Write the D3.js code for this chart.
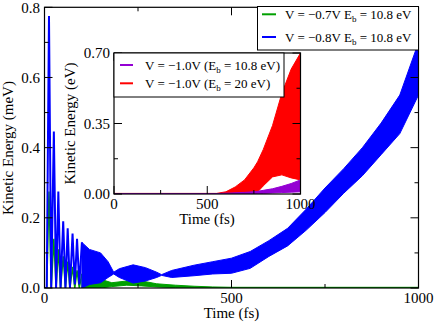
<!DOCTYPE html>
<html><head><meta charset="utf-8">
<script src="https://cdn.jsdelivr.net/npm/d3@7"></script>
<style>body{margin:0;background:#fff}svg{display:block}</style>
</head><body><svg id="c" width="436" height="324"></svg>
<script>
// ---- main plot data (meV) ----
const mainXTicks = [0, 500, 1000];
const mainYTicks = [0.0, 0.2, 0.4, 0.6, 0.8];
// early resolved spikes
const blueEarlyT = [0, 6, 12, 18, 25, 31, 37, 43, 50, 56, 62, 68, 75, 81, 87, 93, 100];
const blueEarlyV = [0, 0, 0.775, 0, 0.446, 0, 0.275, 0, 0.19, 0, 0.17, 0, 0.155, 0.01, 0.14, 0.01, 0.13];
const greenEarlyT = [0, 6, 12, 18, 25, 31, 37, 43, 50, 56, 62, 68, 75, 81, 87, 93, 100];
const greenEarlyV = [0, 0, 0.275, 0, 0.14, 0, 0.11, 0, 0.09, 0, 0.075, 0, 0.06, 0, 0.05, 0, 0.04];
// dense oscillation envelopes
const blueT  = [100, 120, 150, 170, 185, 200, 237, 270, 300, 313, 340, 400, 450, 500, 550, 600, 650, 700, 750, 800, 850, 900, 950, 1000];
const blueHi = [0.13, 0.11, 0.10, 0.075, 0.045, 0.055, 0.066, 0.058, 0.045, 0.038, 0.05, 0.065, 0.075, 0.085, 0.104, 0.135, 0.17, 0.225, 0.285, 0.34, 0.40, 0.47, 0.55, 0.70];
const blueLo = [0.0, 0.01, 0.015, 0.03, 0.04, 0.03, 0.014, 0.02, 0.03, 0.036, 0.03, 0.035, 0.04, 0.042, 0.056, 0.09, 0.12, 0.165, 0.215, 0.27, 0.32, 0.38, 0.44, 0.55];
const greenT  = [100, 150, 180, 220, 260, 300, 350, 400, 450, 500, 1000];
const greenHi = [0.04, 0.025, 0.015, 0.02, 0.02, 0.012, 0.008, 0.005, 0.003, 0.002, 0.002];
const greenLo = [0.0, 0.0, 0.004, 0.008, 0.006, 0.003, 0.001, 0.0, 0.0, 0.0, 0.0];
// ---- inset data (eV) ----
const insetXTicks = [0, 500, 1000];
const insetYTicks = [0.00, 0.35, 0.70];
const redT  = [0, 550, 600, 650, 700, 750, 770, 800, 850, 900, 950, 1000];
const redHi = [0.003, 0.003, 0.011, 0.035, 0.07, 0.13, 0.16, 0.22, 0.34, 0.50, 0.62, 0.70];
const redLo = [0, 0, 0, 0, 0, 0, 0.01, 0.04, 0.085, 0.095, 0.08, 0.07];
const purpleT  = [0, 550, 600, 700, 763, 800, 850, 900, 950, 1000];
const purpleHi = [0.002, 0.002, 0.004, 0.008, 0.012, 0.018, 0.026, 0.038, 0.052, 0.07];
const purpleLo = [0, 0, 0, 0, 0, 0.003, 0.005, 0.007, 0.009, 0.011];

const mainLegend = [
  {c: "#00a000", pre: "V = \u22120.7V E", post: " = 10.8 eV"},
  {c: "#0000ff", pre: "V = \u22120.8V E", post: " = 10.8 eV"}];
const insetLegend = [
  {c: "#9400d3", pre: "V = \u22121.0V (E", post: " = 10.8 eV)"},
  {c: "#ff0000", pre: "V = \u22121.0V (E", post: " = 20 eV)"}];

const svg = d3.select("#c");
const FS = 15;
const FONT = "Liberation Serif";
function txt(g) { return g.append("text").style("font-family", FONT).attr("fill", "#000"); }

function frame(g, x, y, xt, yt, xminor, yminor) {
  const [x0, x1] = x.range(), [y0, y1] = y.range();
  const maj = 8, mn = 4;
  xt.forEach(t => {
    g.append("line").attr("x1", x(t)).attr("x2", x(t)).attr("y1", y0).attr("y2", y0 - maj).attr("stroke", "#000");
    g.append("line").attr("x1", x(t)).attr("x2", x(t)).attr("y1", y1).attr("y2", y1 + maj).attr("stroke", "#000");
  });
  xminor.forEach(t => {
    g.append("line").attr("x1", x(t)).attr("x2", x(t)).attr("y1", y0).attr("y2", y0 - mn).attr("stroke", "#000");
    g.append("line").attr("x1", x(t)).attr("x2", x(t)).attr("y1", y1).attr("y2", y1 + mn).attr("stroke", "#000");
  });
  yt.forEach(t => {
    g.append("line").attr("y1", y(t)).attr("y2", y(t)).attr("x1", x0).attr("x2", x0 + maj).attr("stroke", "#000");
    g.append("line").attr("y1", y(t)).attr("y2", y(t)).attr("x1", x1).attr("x2", x1 - maj).attr("stroke", "#000");
  });
  yminor.forEach(t => {
    g.append("line").attr("y1", y(t)).attr("y2", y(t)).attr("x1", x0).attr("x2", x0 + mn).attr("stroke", "#000");
    g.append("line").attr("y1", y(t)).attr("y2", y(t)).attr("x1", x1).attr("x2", x1 - mn).attr("stroke", "#000");
  });
  g.append("rect").attr("x", x0).attr("y", y1).attr("width", x1 - x0).attr("height", y0 - y1)
    .attr("fill", "none").attr("stroke", "#000").attr("stroke-width", 1.2);
}

function band(g, T, Hi, Lo, x, y, color) {
  const pts = T.map((t, i) => ({t, hi: Hi[i], lo: Lo[i]}));
  g.append("path").datum(pts)
    .attr("d", d3.area().x(d => x(d.t)).y0(d => y(d.lo)).y1(d => y(d.hi)))
    .attr("fill", color).attr("stroke", color).attr("stroke-width", 1);
}
function spikes(g, T, V, x, y, color, w) {
  const pts = T.map((t, i) => [t, V[i]]);
  g.append("path").datum(pts).attr("d", d3.line().x(d => x(d[0])).y(d => y(d[1])))
    .attr("fill", "none").attr("stroke", color).attr("stroke-width", w);
}
function legend(g, items, bx, by, bw, bh, lx0, lx1, ly, dy, tx) {
  g.append("rect").attr("x", bx).attr("y", by).attr("width", bw).attr("height", bh)
    .attr("fill", "#fff").attr("stroke", "#000").attr("stroke-width", 1);
  items.forEach((it, i) => {
    const yy = ly + i * dy;
    g.append("line").attr("x1", lx0).attr("x2", lx1).attr("y1", yy).attr("y2", yy)
      .attr("stroke", it.c).attr("stroke-width", 2);
    const t = txt(g).attr("x", tx).attr("y", yy + 4.5).attr("font-size", 13);
    t.append("tspan").text(it.pre);
    t.append("tspan").attr("font-size", 9).attr("dy", 3).text("b");
    t.append("tspan").attr("dy", -3).text(it.post);
  });
}

// ---------- main plot ----------
const x = d3.scaleLinear().domain([0, 1000]).range([44.5, 418.5]);
const y = d3.scaleLinear().domain([0, 0.8]).range([288, 7.3]);
const gm = svg.append("g");
svg.append("clipPath").attr("id", "cm").append("rect")
  .attr("x", 44.5).attr("y", 7.3).attr("width", 374).attr("height", 280.7);
const dm = gm.append("g").attr("clip-path", "url(#cm)");
band(dm, greenT, greenHi, greenLo, x, y, "#00a000");
spikes(dm, greenEarlyT, greenEarlyV, x, y, "#00a000", 1.5);
spikes(dm, blueEarlyT, blueEarlyV, x, y, "#0000ff", 2);
band(dm, blueT, blueHi, blueLo, x, y, "#0000ff");
dm.append("line").attr("x1", x(500)).attr("x2", x(1000)).attr("y1", y(0.001)).attr("y2", y(0.001))
  .attr("stroke", "#00a000").attr("stroke-width", 1.5);
frame(gm, x, y, mainXTicks, mainYTicks, [250, 750], [0.1, 0.3, 0.5, 0.7]);
mainXTicks.forEach(t => txt(gm).attr("x", x(t)).attr("y", 303).attr("text-anchor", "middle").attr("font-size", FS).text(t));
mainYTicks.forEach(t => txt(gm).attr("x", 40).attr("y", y(t)).attr("dy", "0.35em").attr("text-anchor", "end").attr("font-size", FS).text(d3.format(".1f")(t)));
txt(gm).attr("x", 231.5).attr("y", 318).attr("text-anchor", "middle").attr("font-size", FS).text("Time (fs)");
txt(gm).attr("transform", "translate(13,148) rotate(-90)").attr("text-anchor", "middle").attr("font-size", FS).text("Kinetic Energy (meV)");
legend(gm, mainLegend, 257.5, 6.5, 161, 43.5, 262, 276, 14.3, 22.7, 285);

// ---------- inset ----------
const xi = d3.scaleLinear().domain([0, 1000]).range([114, 300.5]);
const yi = d3.scaleLinear().domain([0, 0.70]).range([194, 53]);
const gi = svg.append("g");
gi.append("rect").attr("x", 114).attr("y", 53).attr("width", 186.5).attr("height", 141).attr("fill", "#fff");
svg.append("clipPath").attr("id", "ci").append("rect")
  .attr("x", 114).attr("y", 53).attr("width", 186.5).attr("height", 141);
const di = gi.append("g").attr("clip-path", "url(#ci)");
band(di, redT, redHi, redLo, xi, yi, "#ff0000");
band(di, purpleT, purpleHi, purpleLo, xi, yi, "#9400d3");
frame(gi, xi, yi, insetXTicks, insetYTicks, [250, 750], [0.175, 0.525]);
insetXTicks.forEach(t => txt(gi).attr("x", xi(t)).attr("y", 209).attr("text-anchor", "middle").attr("font-size", FS).text(t));
insetYTicks.forEach(t => txt(gi).attr("x", 110).attr("y", yi(t)).attr("dy", "0.35em").attr("text-anchor", "end").attr("font-size", FS).text(d3.format(".2f")(t)));
txt(gi).attr("x", 207).attr("y", 224).attr("text-anchor", "middle").attr("font-size", FS).text("Time (fs)");
txt(gi).attr("transform", "translate(75,123.5) rotate(-90)").attr("text-anchor", "middle").attr("font-size", FS).text("Kinetic Energy (eV)");
legend(gi, insetLegend, 114, 53, 170, 44, 120, 133, 65, 18.3, 145);
</script></body></html>
